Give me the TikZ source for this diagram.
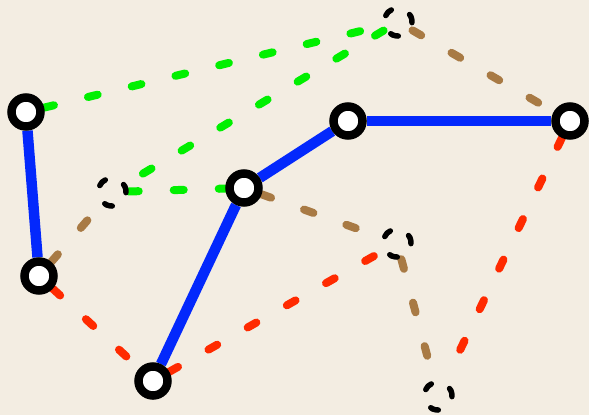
\documentclass[tikz,border=0pt]{standalone}
\usetikzlibrary{backgrounds}
\definecolor{bgc}{HTML}{F3EDE2}
\definecolor{cblue}{HTML}{0328FC}
\definecolor{cgreen}{HTML}{00F000}
\definecolor{cbrown}{HTML}{A87A44}
\definecolor{cred}{HTML}{FF2A00}
\tikzset{
  vtx/.style={circle, draw=black, fill=white, line width=8.5pt, minimum size=29pt, inner sep=0pt},
  ghost/.style={circle, draw=black, line width=5.5pt, minimum size=28pt, inner sep=0pt, line cap=round, dash pattern=on 8pt off 21pt},
  solidedge/.style={draw=cblue, line width=10.5pt},
  dedge/.style={line width=8pt, line cap=round, dash pattern=on 10pt off 35pt},
  gedge/.style={dedge, draw=cgreen},
  bedge/.style={dedge, draw=cbrown},
  redge/.style={dedge, draw=cred}
}
\begin{document}
\begin{tikzpicture}[x=1pt,y=-1pt]
\begin{pgfonlayer}{background}
\fill[bgc] (0,0) rectangle (589,415);
\end{pgfonlayer}
\useasboundingbox (0,0) rectangle (589,415);
\node[vtx] (A) at (26,112) {};
\node[vtx] (B) at (39,276) {};
\node[vtx] (C) at (153,381) {};
\node[vtx] (D) at (244,188) {};
\node[vtx] (E) at (348,121) {};
\node[vtx] (F) at (570,121) {};
\node[ghost] (P1) at (398,22) {};
\node[ghost] (P2) at (112,192) {};
\node[ghost] (P3) at (397,243) {};
\node[ghost] (P4) at (438,396) {};
\begin{pgfonlayer}{background}
\draw[gedge] (A) -- (P1);
\draw[gedge] (P1) -- (P2);
\draw[gedge] (P2) -- (D);
\draw[bedge] (P1) -- (F);
\draw[bedge] (B) -- (P2);
\draw[bedge] (D) -- (P3);
\draw[bedge] (P3) -- (P4);
\draw[redge] (B) -- (C);
\draw[redge] (C) -- (P3);
\draw[redge] (F) -- (P4);
\draw[solidedge] (A) -- (B);
\draw[solidedge] (C) -- (D);
\draw[solidedge] (D) -- (E);
\draw[solidedge] (E) -- (F);
\end{pgfonlayer}
\end{tikzpicture}
\end{document}
